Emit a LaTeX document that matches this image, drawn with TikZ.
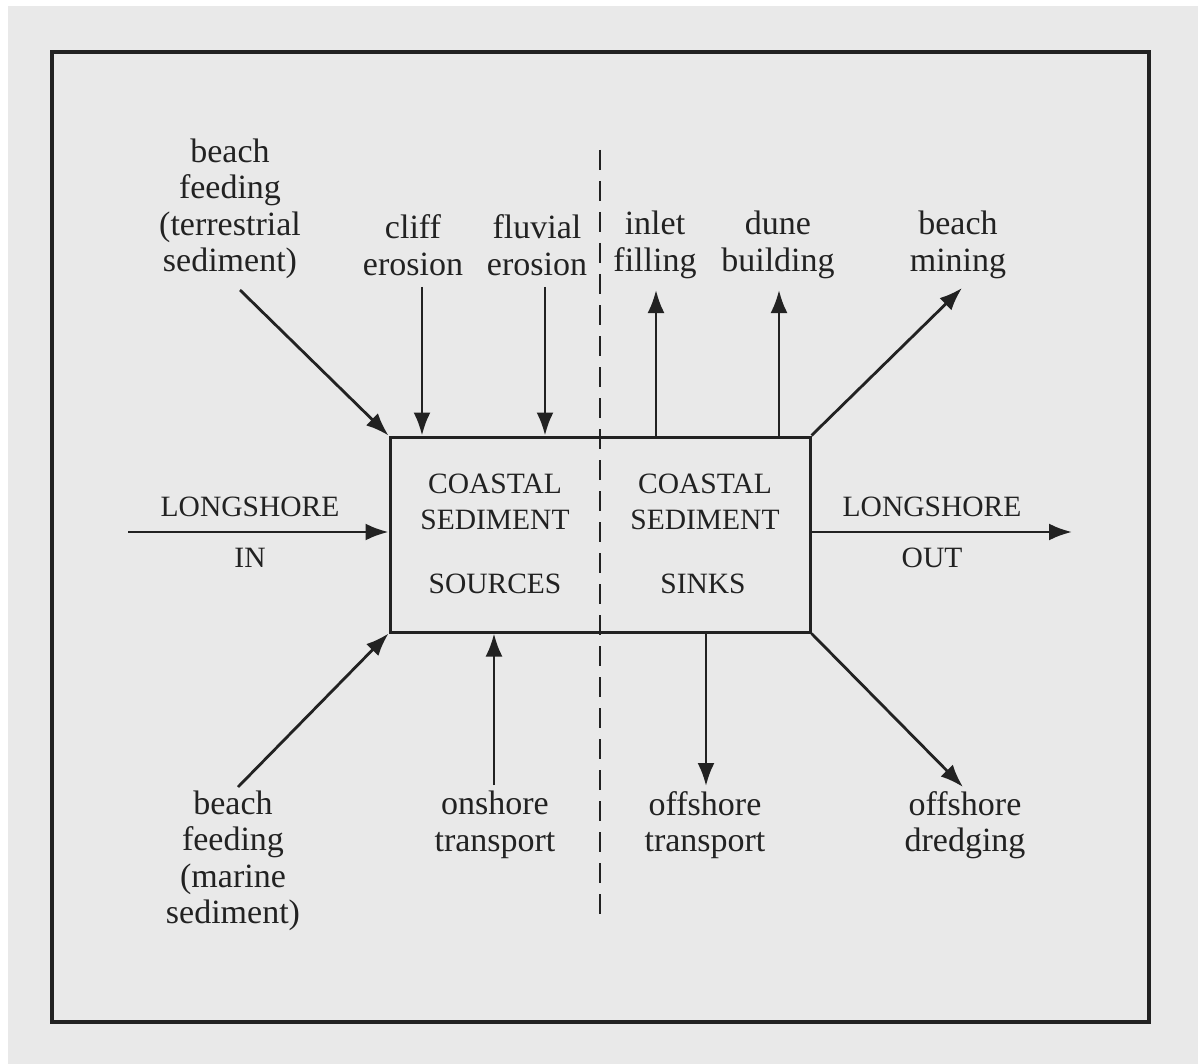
\documentclass[tikz,border=0pt]{standalone}
\usepackage{fontspec}
\setmainfont{Liberation Serif}
\usetikzlibrary{arrows.meta,calc}
\definecolor{bg}{HTML}{E9E9E9}
\definecolor{ink}{HTML}{222222}
\begin{document}
\begin{tikzpicture}[x=1pt,y=-1pt,
  lbl/.style={align=center,text=ink,font=\fontsize{34}{36.5}\selectfont,inner sep=0pt},
  caps/.style={align=center,text=ink,font=\fontsize{29.5}{36}\selectfont,inner sep=0pt},
  arr/.style={draw=ink,line width=2.8pt,-{Latex[length=23pt,width=17pt]}},
  frame/.style={draw=ink,line width=3.2pt},
  boxst/.style={draw=ink,line width=3pt,minimum width=420pt,minimum height=195pt,inner sep=0pt}]
\useasboundingbox[fill=bg] (0,0) rectangle (1198,1064);
\fill[white] (0,0) rectangle (1198,6);
\fill[white] (0,0) rectangle (8,1064);
\node[frame,minimum width=1097pt,minimum height=970pt,inner sep=0pt] (outer) at (600.5,537) {};
\node[boxst] (box) at (600,534.5) {};
\coordinate (dtop) at (600,150);
\coordinate (dbot) at (600,925);
\draw[ink,line width=2.8pt,dash pattern=on 20pt off 11pt] (dtop) -- (dbot);
% top labels
\node[lbl] (bft) at (230,209) {beach\\feeding\\(terrestrial\\sediment)};
\node[lbl] (cliff) at (413,245) {cliff\\erosion};
\node[lbl] (fluv) at (537,245) {fluvial\\erosion};
\node[lbl] (inlet) at (655,245) {inlet\\filling};
\node[lbl] (dune) at (778,245) {dune\\building};
\node[lbl] (mine) at (958,245) {beach\\mining};
% middle labels
\node[caps] (lsin) at (250,507) {LONGSHORE};
\node[caps] (in) at (250,558) {IN};
\node[caps] (cs1) at (495,502) {COASTAL\\SEDIMENT};
\node[caps] (src) at (495,584) {SOURCES};
\node[caps] (cs2) at (705,502) {COASTAL\\SEDIMENT};
\node[caps] (snk) at (703,584) {SINKS};
\node[caps] (lsout) at (932,507) {LONGSHORE};
\node[caps] (out) at (932,558) {OUT};
% bottom labels
\node[lbl] (bfm) at (233,861) {beach\\feeding\\(marine\\sediment)};
\node[lbl] (on) at (495,825) {onshore\\transport};
\node[lbl] (off) at (705,825) {offshore\\transport};
\node[lbl] (dred) at (965,825) {offshore\\dredging};
% arrow end coordinates
\coordinate (a1) at (240,290);
\coordinate (a2) at (422,287);
\coordinate (a3) at (545,287);
\coordinate (a4) at (656,290);
\coordinate (a5) at (779,290);
\coordinate (a6) at (962,288);
\coordinate (a7) at (128,532);
\coordinate (a8) at (1072,532);
\coordinate (a9) at (238,787);
\coordinate (a10) at (494,785);
\coordinate (a11) at (706,786);
\coordinate (a12) at (963,787);
\draw[arr] (a1) -- (box.north west);
\draw[arr] (a2) -- (a2 |- box.north);
\draw[arr] (a3) -- (a3 |- box.north);
\draw[arr] (a4 |- box.north) -- (a4);
\draw[arr] (a5 |- box.north) -- (a5);
\draw[arr] (box.north east) -- (a6);
\draw[arr] (a7) -- (a7 -| box.west);
\draw[arr] (a8 -| box.east) -- (a8);
\draw[arr] (a9) -- (box.south west);
\draw[arr] (a10) -- (a10 |- box.south);
\draw[arr] (a11 |- box.south) -- (a11);
\draw[arr] (box.south east) -- (a12);
\end{tikzpicture}
\end{document}
